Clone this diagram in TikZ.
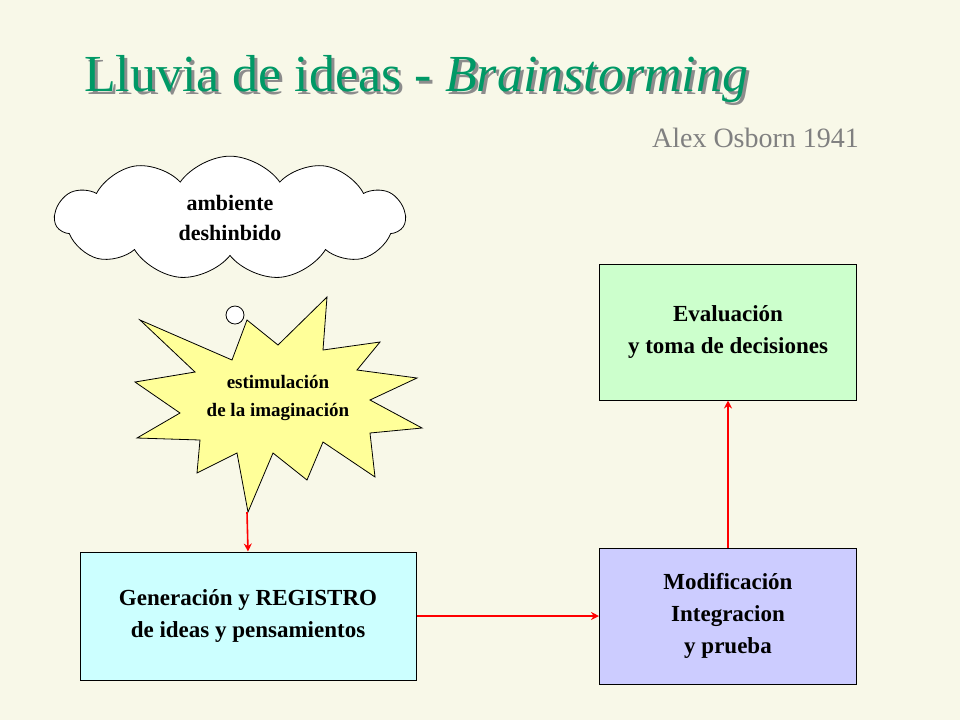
\documentclass[tikz,border=0pt]{standalone}
\usepackage{fontspec}
\setmainfont{Liberation Serif}
\usetikzlibrary{shapes.symbols,arrows.meta}
\definecolor{bg}{RGB}{248,248,232}
\definecolor{ttl}{RGB}{0,153,102}
\definecolor{st}{RGB}{255,255,153}
\tikzset{box/.style={draw,line width=0.5pt,minimum width=128.5pt,align=center,font=\bfseries\fontsize{11.5}{16}\selectfont},
arr/.style={red,line width=0.8pt,-{Stealth[length=4pt,width=4pt]}}}
\begin{document}
\begin{tikzpicture}[x=0.5pt,y=-0.5pt]
\fill[bg] (0,0) rectangle (960,720);
\useasboundingbox (0,0) rectangle (960,720);
\node[anchor=west,text=black!45,font=\fontsize{26}{30}\selectfont] at (80,82) {Lluvia de ideas - \textit{Brainstorming}};
\node[anchor=west,text=ttl,font=\fontsize{26}{30}\selectfont] (title) at (77,79) {Lluvia de ideas - \textit{Brainstorming}};
\node[anchor=east,text=black!50,font=\fontsize{14}{16}\selectfont] (sub) at (866,138) {Alex Osborn 1941};
\node[cloud,cloud puffs=11,cloud puff arc=110,aspect=3.6,draw,fill=white,minimum width=175pt,minimum height=50pt,align=center,font=\bfseries\fontsize{11}{15}\selectfont] (cloud) at (230,218) {ambiente\\deshinbido};
\draw[fill=white] (235,315) circle (9);
\draw[fill=st] (140,320)--(232,360)--(247,320)--(278,345)--(327,297)--(323,350)--(380,342)--(357,370)--(417,378)--(370,400)--(422,428)--(370,433)--(375,477)--(323,442)--(307,480)--(273,453)--(248,512)--(237,453)--(197,473)--(200,440)--(137,438)--(180,413)--(135,382)--(195,372)--cycle;
\node[align=center,font=\bfseries\fontsize{9.5}{14}\selectfont] (star) at (278,398) {estimulación\\de la imaginación};
\coordinate (tip) at (247,512);
\node[box,fill={rgb,255:red,204;green,255;blue,204},minimum height=68pt] (eval) at (728,332) {Evaluación\\y toma de decisiones};
\node[box,fill={rgb,255:red,204;green,255;blue,255},minimum width=168pt,minimum height=64pt] (gen) at (248,616) {Generación y REGISTRO\\de ideas y pensamientos};
\node[box,fill={rgb,255:red,204;green,204;blue,255},minimum height=68pt] (mod) at (728,616) {Modificación\\Integracion\\y prueba};
\draw[arr] (tip) -- (gen.north);
\draw[arr] (gen.east) -- (mod.west);
\draw[arr] (mod.north) -- (eval.south);
\end{tikzpicture}
\end{document}
